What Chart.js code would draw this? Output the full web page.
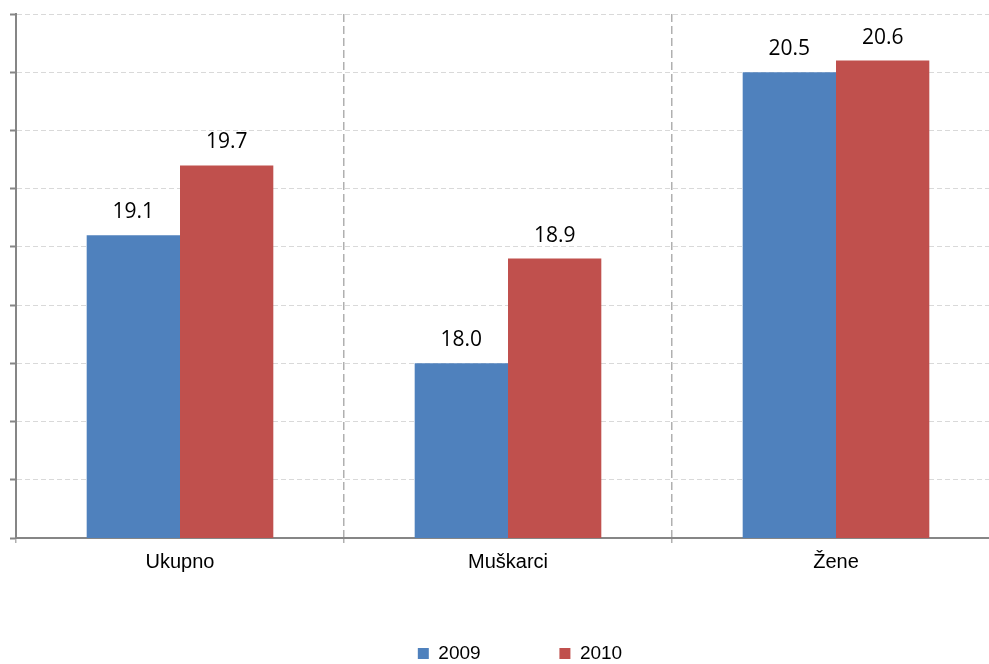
<!DOCTYPE html>
<html>
<head>
<meta charset="utf-8">
<script src="https://cdn.jsdelivr.net/npm/chart.js@4/dist/chart.umd.min.js"></script>
<style>
  html, body { margin: 0; padding: 0; background: #fff; overflow: hidden; }
</style>
</head>
<body>
<canvas id="chart" width="1000" height="664"></canvas>
<script>
// data
var categories = ['Ukupno', 'Muškarci', 'Žene'];
var seriesNames = ['2009', '2010'];
var values2009 = [19.1, 18.0, 20.5];
var values2010 = [19.7, 18.9, 20.6];
var yMin = 16.5, yMax = 21, yStep = 0.5;

Chart.defaults.font.family = '"Liberation Sans", Arial, sans-serif';
Chart.defaults.color = '#000';

// numbers above the bars
var valueLabels = {
    id: 'valueLabels',
    afterDatasetsDraw: function(chart) {
        var ctx = chart.ctx;
        ctx.save();
        ctx.font = '21px "Open Sans"';
        ctx.fillStyle = '#000';
        ctx.textAlign = 'center';
        ctx.textBaseline = 'alphabetic';
        chart.data.datasets.forEach(function(ds, i) {
            chart.getDatasetMeta(i).data.forEach(function(bar, j) {
                ctx.fillText(ds.data[j].toFixed(1), bar.x, bar.y - 17);
            });
        });
        ctx.restore();
    }
};

// legend sits a bit right of canvas center in the original
var legendShift = {
    id: 'legendShift',
    afterLayout: function(chart) {
        chart.legend.left += 15;
        chart.legend.right += 15;
    }
};

var ctx = document.getElementById('chart').getContext('2d');
var chart = new Chart(ctx, {
    type: 'bar',
    data: {
        labels: categories,
        datasets: [{
            label: seriesNames[0],
            data: values2009,
            backgroundColor: '#4F81BD',
            borderWidth: 0
        }, {
            label: seriesNames[1],
            data: values2010,
            backgroundColor: '#C0504D',
            borderWidth: 0
        }]
    },
    options: {
        responsive: false,
        animation: false,
        events: [],
        categoryPercentage: 0.569,
        barPercentage: 1,
        layout: { padding: { left: 10, top: 14, right: 0, bottom: -9 } },
        plugins: {
            tooltip: { enabled: false },
            legend: {
                position: 'bottom',
                labels: {
                    boxWidth: 11,
                    boxHeight: 11,
                    padding: 63,
                    font: { size: 19 },
                    generateLabels: function(chart) {
                        var items = Chart.defaults.plugins.legend.labels.generateLabels(chart);
                        items[0].text += '   ';
                        return items;
                    }
                }
            }
        },
        scales: {
            x: {
                grid: {
                    offset: true,
                    color: '#b0b0b0',
                    lineWidth: 1.5,
                    tickLength: 5,
                    tickColor: '#b0b0b0'
                },
                border: { color: '#868686', width: 2, dash: [8, 4] },
                ticks: { padding: 7, font: { size: 20 } }
            },
            y: {
                min: yMin,
                max: yMax,
                ticks: { display: false, stepSize: yStep },
                grid: {
                    color: '#d9d9d9',
                    lineWidth: 1,
                    tickLength: 6,
                    tickColor: '#868686',
                    tickWidth: 2
                },
                border: { color: '#868686', width: 2, dash: [5, 3] }
            }
        }
    },
    plugins: [valueLabels, legendShift]
});
</script>
</body>
</html>
